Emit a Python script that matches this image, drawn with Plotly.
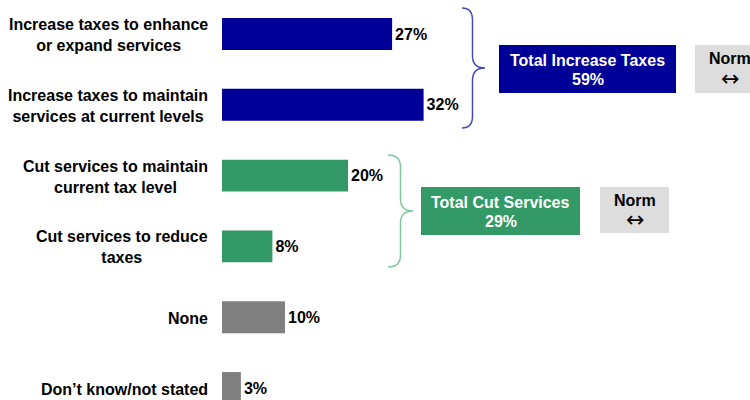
import plotly.graph_objects as go

# ---- data ----
categories = [
    "Increase taxes to enhance<br>or expand services",
    "Increase taxes to maintain<br>services at current levels",
    "Cut services to maintain<br>current tax level",
    "Cut services to reduce<br>taxes",
    "None",
    "Don\u2019t know/not stated",
]
values = [27, 32, 20, 8, 10, 3]
bar_colors = ["#000099", "#000099", "#339966", "#339966", "#808080", "#808080"]
group_labels = ["Total Increase Taxes", "Total Cut Services"]
group_totals = [59, 29]
group_colors = ["#000099", "#339966"]
brace_colors = ["#4848b4", "#80c8a0"]
norm_label = "Norm"
norm_arrow = "\u2194"

OFF = 0
W, H = 750, 400
FONT = "Liberation Sans, Arial, sans-serif"


def px(x):
    return (x - OFF) / W


def py(y):
    return 1 - (y - OFF) / H


fig = go.Figure()
fig.add_trace(go.Bar(
    y=categories, x=values, orientation="h",
    marker=dict(color=bar_colors, line=dict(width=0)),
    width=0.45,
    text=[f"{v}%" for v in values], textposition="outside",
    textfont=dict(family=FONT, size=16, color="black", weight="bold"),
    constraintext="none", cliponaxis=False, hoverinfo="skip",
))

annotations = []
for c in categories:
    annotations.append(dict(
        xref="paper", yref="y", x=px(210), y=c, xanchor="right", yanchor="middle",
        yshift=-1,
        text=c, align="center", showarrow=False,
        font=dict(family=FONT, size=16, color="black", weight="bold"),
    ))


def brace(x0, xv, xt, y0, ym, y1, r=12):
    pts = [
        f"M {px(x0)},{py(y0)}",
        f"Q {px(xv)},{py(y0)} {px(xv)},{py(y0 + r)}",
        f"L {px(xv)},{py(ym - r)}",
        f"Q {px(xv)},{py(ym)} {px(xt)},{py(ym)}",
        f"Q {px(xv)},{py(ym)} {px(xv)},{py(ym + r)}",
        f"L {px(xv)},{py(y1 - r)}",
        f"Q {px(xv)},{py(y1)} {px(x0)},{py(y1)}",
    ]
    return " ".join(pts)


shapes = [
    dict(type="path", xref="paper", yref="paper",
         path=brace(462, 472.5, 485, 8, 68, 128),
         line=dict(color=brace_colors[0], width=1.5)),
    dict(type="path", xref="paper", yref="paper",
         path=brace(388, 400.5, 413, 155, 211, 267),
         line=dict(color=brace_colors[1], width=1.5)),
]

# group total boxes (screen pixel geometry)
boxes = [
    dict(x0=499, x1=676, y0=45, y1=93, l1=60.5, l2=80, nx0=695, nx1=763, ny1=93),
    dict(x0=421, x1=580, y0=187, y1=235, l1=202, l2=221, nx0=600, nx1=669, ny1=233),
]
for b, lab, tot, col in zip(boxes, group_labels, group_totals, group_colors):
    shapes.append(dict(type="rect", xref="paper", yref="paper",
                       x0=px(b["x0"]), x1=px(b["x1"]), y0=py(b["y1"]), y1=py(b["y0"]),
                       fillcolor=col, line=dict(width=0), layer="above"))
    cx = px((b["x0"] + b["x1"]) / 2)
    for txt, ly in ((lab, b["l1"]), (f"{tot}%", b["l2"])):
        annotations.append(dict(
            xref="paper", yref="paper", x=cx, y=py(ly),
            xanchor="center", yanchor="middle", showarrow=False,
            text=txt, font=dict(family=FONT, size=16, color="white", weight="bold"),
        ))
    shapes.append(dict(type="rect", xref="paper", yref="paper",
                       x0=px(b["nx0"]), x1=px(b["nx1"]), y0=py(b["ny1"]), y1=py(b["y0"]),
                       fillcolor="#dddddd", line=dict(width=0), layer="above"))
    ncx = px((b["nx0"] + b["nx1"]) / 2 + 0.5)
    annotations.append(dict(
        xref="paper", yref="paper", x=ncx, y=py(b["l1"] - 1.5),
        xanchor="center", yanchor="middle", showarrow=False,
        text=norm_label, font=dict(family=FONT, size=16, color="black", weight="bold"),
    ))
    annotations.append(dict(
        xref="paper", yref="paper", x=ncx, y=py(b["l2"] - 1.5),
        xanchor="center", yanchor="middle", showarrow=False,
        text=norm_arrow, font=dict(family="DejaVu Sans", size=22, color="black"),
    ))

fig.update_layout(
    width=W, height=H,
    margin=dict(l=0, r=0, t=0, b=0),
    paper_bgcolor="white", plot_bgcolor="white",
    showlegend=False,
    xaxis=dict(domain=[px(222), 1], range=[0, (W - (222 - OFF)) / 6.3], visible=False, fixedrange=True),
    yaxis=dict(type="category", categoryorder="array", categoryarray=categories,
               range=[(H - (34 - OFF)) / 70.8, -(34 - OFF) / 70.8], visible=False, fixedrange=True),
    shapes=shapes,
    annotations=annotations,
)

fig.write_html(
    "out.html",
    config={"displayModeBar": False},
    post_script="document.body.style.margin='0';document.body.style.overflow='hidden';",
)
